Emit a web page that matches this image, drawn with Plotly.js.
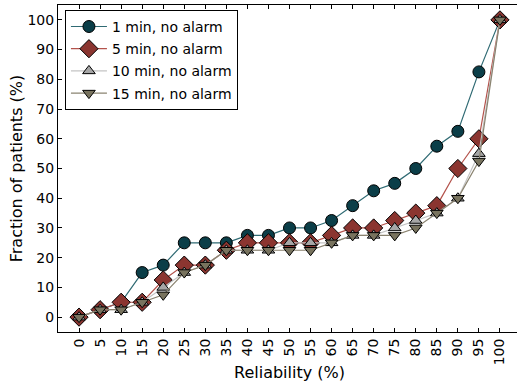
<!DOCTYPE html>
<html>
<head>
<meta charset="utf-8">
<script src="https://cdn.plot.ly/plotly-3.0.1.min.js"></script>
<style>
html,body{margin:0;padding:0;overflow:hidden;background:#fff;}
#chart{width:522px;height:385px;}
</style>
</head>
<body>
<div id="chart"></div>
<script>
var reliability = [0,5,10,15,20,25,30,35,40,45,50,55,60,65,70,75,80,85,90,95,100];
var tickLabels = reliability.map(String);
var min1  = [0,2.5,5,15,17.5,25,25,25,27.5,27.5,30,30,32.5,37.5,42.5,45,50,57.5,62.5,82.5,100];
var min5  = [0,2.5,5,5,12.5,17.5,17.5,22.5,25,25,25,25,27.5,30,30,32.5,35,37.5,50,60,100];
var min10 = [0,2.5,2.5,5,10,15,17.5,22.5,22.5,22.5,25,25,25,27.5,27.5,30,32.5,35,40,55,100];
var min15 = [0,2.5,2.5,5,7.5,15,17.5,22.5,22.5,22.5,22.5,22.5,25,27.5,27.5,27.5,30,35,40,52.5,100];
var seriesNames = ["1 min, no alarm","5 min, no alarm","10 min, no alarm","15 min, no alarm"];

function tr(y, name, lineColor, fill, symbol, size, grp){
  return {
    x: reliability, y: y, name: name, type: 'scatter', mode: 'lines+markers',
    legendgroup: grp,
    line: {color: lineColor, width: 1.2},
    marker: {symbol: symbol, size: size, color: fill, line: {color: '#000', width: 1}}
  };
}
var data = [
  tr(min1, seriesNames[0], '#2f6a73', '#0b3e48', 'circle', 12, 'a'),
  tr(min5, seriesNames[1], '#b4534c', '#8b3530', 'diamond', 14, 'b'),
  tr(min10, seriesNames[2], '#c4c4c4', '#a6a6a6', 'triangle-up', 11, 'c'),
  tr(min15, seriesNames[3], '#8a8370', '#78735e', 'triangle-down', 11, 'd')
];
var layout = {
  width: 522, height: 385,
  margin: {l: 58, r: 1, t: 5, b: 53},
  paper_bgcolor: '#fff', plot_bgcolor: '#fff',
  font: {family: 'DejaVu Sans', size: 14, color: '#000'},
  showlegend: true,
  legend: {
    x: 0.015, y: 0.985, xanchor: 'left', yanchor: 'top',
    bgcolor: '#fff', bordercolor: '#000', borderwidth: 1,
    font: {family: 'DejaVu Sans', size: 14},
    traceorder: 'grouped', tracegroupgap: 1, itemwidth: 36
  },
  xaxis: {
    range: [-5, 105], tickmode: 'array', tickvals: reliability, ticktext: tickLabels,
    tickangle: -90, ticks: 'inside', ticklen: 4, tickcolor: '#000',
    showline: true, linecolor: '#000', linewidth: 1, mirror: 'ticks',
    showgrid: false, zeroline: false,
    title: {text: 'Reliability (%)', font: {size: 16}, standoff: 2}
  },
  yaxis: {
    range: [-5, 105], tickmode: 'array', tickvals: [0,10,20,30,40,50,60,70,80,90,100],
    ticks: 'inside', ticklen: 4, tickcolor: '#000',
    showline: true, linecolor: '#000', linewidth: 1, mirror: 'ticks',
    showgrid: false, zeroline: false,
    title: {text: 'Fraction of patients (%)', font: {size: 16}, standoff: 0}
  }
};
Plotly.newPlot('chart', data, layout, {staticPlot: true});
</script>
</body>
</html>
